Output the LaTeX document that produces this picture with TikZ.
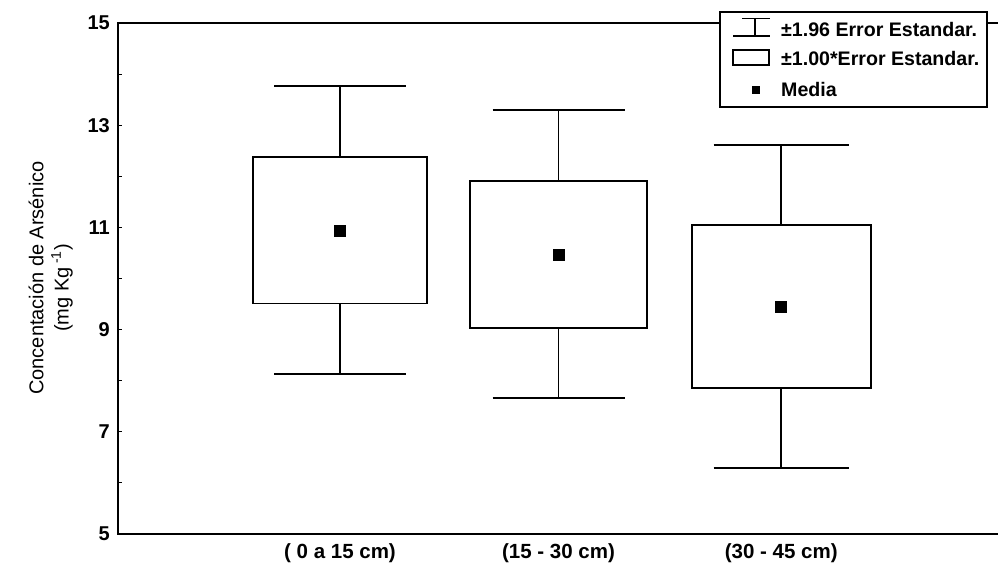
\documentclass[tikz,border=0pt]{standalone}
\usepackage{fontspec}
\setmainfont{Liberation Sans}
\newcommand\yv[1]{23+(15-#1)*51.1}
\begin{document}
\begin{tikzpicture}[x=1pt,y=-1pt,
  axisline/.style={line width=1.9pt,line cap=rect},
  boxline/.style={line width=1.9pt},
  meanmark/.style={fill=black,draw=none,minimum size=12pt,inner sep=0pt},
  ticklab/.style={font=\fontsize{20}{20}\selectfont\bfseries,anchor=east,inner sep=0pt},
  catlab/.style={font=\fontsize{20.5}{20.5}\selectfont\bfseries,inner sep=0pt},
  titlab/.style={font=\fontsize{20}{20}\selectfont,rotate=90,inner sep=0pt},
  legtext/.style={font=\fontsize{19.6}{19.6}\selectfont\bfseries,anchor=west,inner sep=0pt},
  legframe/.style={fill=white,draw=black,line width=1.4pt}]
\useasboundingbox (0,0) rectangle (998,568);
% axes
\draw[axisline] (998,{\yv{15}}) -- (118,{\yv{15}}) -- (118,{\yv{5}}) -- (998,{\yv{5}});
\foreach \v in {5,...,15}{
  \draw[line width=1pt] (118,{\yv{\v}}) -- (122,{\yv{\v}});
}
\foreach \v in {5,7,...,15}{
  \node[ticklab] (t\v) at (110,{\yv{\v}}) {\v};
}
% boxes
\foreach \n/\cx/\bw/\cw/\wt/\bt/\m/\bb/\wb in {
  a/340/87/66/13.77/12.37/10.92/9.51/8.13,
  b/558.5/88.5/66/13.30/11.91/10.46/9.04/7.67,
  c/781.2/89.5/67.5/12.61/11.05/9.44/7.85/6.29}{
  \draw[boxline] (\cx-\cw,{\yv{\wt}}) -- (\cx+\cw,{\yv{\wt}});
  \draw[boxline] (\cx,{\yv{\wt}}) -- (\cx,{\yv{\bt}});
  \draw[boxline] (\cx-\bw,{\yv{\bt}}) rectangle (\cx+\bw,{\yv{\bb}});
  \draw[boxline] (\cx,{\yv{\bb}}) -- (\cx,{\yv{\wb}});
  \draw[boxline] (\cx-\cw,{\yv{\wb}}) -- (\cx+\cw,{\yv{\wb}});
  \node[meanmark] (m\n) at (\cx,{\yv{\m}}) {};
}
% category labels
\node[catlab] (ca) at (340,553) {( 0 a 15 cm)};
\node[catlab] (cb) at (558.5,553) {(15 - 30 cm)};
\node[catlab] (cc) at (781.2,553) {(30 - 45 cm)};
% axis title
\node[titlab] (ti1) at (36,278) {Concentación de Arsénico};
\node[titlab] (ti2) at (62,288) {(mg Kg\,\textsuperscript{-1})};
% legend
\draw[legframe] (720,12) rectangle (987,107);
\draw[line width=1.6pt] (742,18.5) -- (770,18.5);
\draw[line width=1.6pt] (755,18.5) -- (755,36);
\draw[line width=1.6pt] (733,36) -- (770,36);
\draw[line width=1.6pt] (733,50) rectangle (769,65);
\node[fill=black,minimum size=8pt,inner sep=0pt] (lm) at (755.5,90) {};
\node[legtext] (l1) at (781,29) {±1.96 Error Estandar.};
\node[legtext] (l2) at (781,58) {±1.00*Error Estandar.};
\node[legtext] (l3) at (781,89) {Media};
\end{tikzpicture}
\end{document}
